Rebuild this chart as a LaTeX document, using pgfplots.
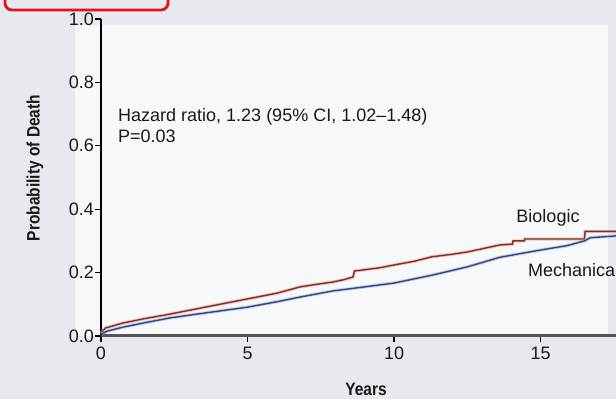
\documentclass[border=0pt]{standalone}
\usepackage{fontspec}
\setmainfont{Liberation Sans}
\newfontfamily\condfont[FakeStretch=0.86]{Liberation Sans}
\usepackage{pgfplots}
\pgfplotsset{compat=1.18}

\definecolor{bgc}{RGB}{230,233,237}
\definecolor{panelc}{RGB}{247,248,250}
\definecolor{boxred}{RGB}{232,16,26}
\definecolor{axgray}{RGB}{85,85,85}
\definecolor{txtc}{RGB}{25,25,25}
\definecolor{bioCore}{RGB}{130,48,38}
\definecolor{bioHalo}{RGB}{236,160,150}
\definecolor{mechCore}{RGB}{52,72,125}
\definecolor{mechHalo}{RGB}{160,180,225}

\newcommand{\txt}{\fontsize{18}{21}\selectfont}

\begin{document}
\begin{tikzpicture}
\useasboundingbox (0pt,0pt) rectangle (616pt,399pt);
\fill[bgc] (0pt,0pt) rectangle (616pt,399pt);
\fill[panelc] (75pt,63pt) rectangle (608pt,374pt);
\draw[boxred, line width=2.8pt, rounded corners=7pt] (5pt,389pt) rectangle (168pt,412pt);

\begin{axis}[
  at={(101pt,63pt)}, anchor=south west,
  scale only axis, width=515.7pt, height=317pt,
  xmin=0, xmax=17.6, ymin=0, ymax=1,
  axis x line*=bottom, axis y line*=left,
  x axis line style={line width=3pt, color=axgray},
  y axis line style={line width=1.4pt, black},
  xtick={0,5,10,15}, ytick={0,0.2,0.4,0.6,0.8,1.0},
  tick align=outside, major tick length=6pt,
  tick style={black, line width=1.2pt},
  /pgf/number format/assume math mode=true,
  yticklabel style={font=\txt, text=txtc, inner sep=1pt, /pgf/number format/fixed,
    /pgf/number format/fixed zerofill, /pgf/number format/precision=1},
  xticklabel style={font=\txt, text=txtc, inner sep=1pt, yshift=-4pt},
  clip=false,
]
% Biologic valve
\addplot[bioHalo, line width=3.2pt, opacity=0.6] coordinates {
(0,0.010) (0.15,0.025) (0.75,0.041) (1.5,0.055) (2.35,0.069) (3.5,0.090)
(4.5,0.108) (5,0.117) (6,0.135) (6.8,0.155) (7.5,0.165) (7.9,0.170)
(8.3,0.178) (8.6,0.186) (8.65,0.205) (9.5,0.215) (10,0.224) (10.7,0.236)
(11.3,0.250) (12,0.258) (12.5,0.265) (13,0.275) (13.6,0.287) (14.05,0.290)
(14.06,0.300) (14.45,0.300) (14.46,0.306) (16.5,0.306) (16.52,0.330) (17.6,0.330)};
\addplot[bioCore, line width=1.4pt] coordinates {
(0,0.010) (0.15,0.025) (0.75,0.041) (1.5,0.055) (2.35,0.069) (3.5,0.090)
(4.5,0.108) (5,0.117) (6,0.135) (6.8,0.155) (7.5,0.165) (7.9,0.170)
(8.3,0.178) (8.6,0.186) (8.65,0.205) (9.5,0.215) (10,0.224) (10.7,0.236)
(11.3,0.250) (12,0.258) (12.5,0.265) (13,0.275) (13.6,0.287) (14.05,0.290)
(14.06,0.300) (14.45,0.300) (14.46,0.306) (16.5,0.306) (16.52,0.330) (17.6,0.330)};
% Mechanical valve
\addplot[mechHalo, line width=3.2pt, opacity=0.6] coordinates {
(0,0.005) (0.2,0.015) (0.75,0.028) (1.5,0.042) (2.35,0.057) (3.5,0.072)
(5,0.091) (6,0.108) (6.8,0.123) (7.9,0.142) (9,0.155) (10,0.167)
(11.3,0.192) (12.5,0.218) (13.6,0.248) (14.8,0.268) (15.9,0.285)
(16.5,0.300) (16.7,0.310) (17.6,0.316)};
\addplot[mechCore, line width=1.4pt] coordinates {
(0,0.005) (0.2,0.015) (0.75,0.028) (1.5,0.042) (2.35,0.057) (3.5,0.072)
(5,0.091) (6,0.108) (6.8,0.123) (7.9,0.142) (9,0.155) (10,0.167)
(11.3,0.192) (12.5,0.218) (13.6,0.248) (14.8,0.268) (15.9,0.285)
(16.5,0.300) (16.7,0.310) (17.6,0.316)};
\end{axis}

\node[font=\txt, text=txtc, anchor=base west, inner sep=0pt] at (118pt,277.5pt) {Hazard ratio, 1.23 (95\% CI, 1.02--1.48)};
\node[font=\txt, text=txtc, anchor=base west, inner sep=0pt] at (118pt,256.5pt) {P=0.03};
\node[font=\txt, text=txtc, inner sep=0pt] at (548pt,181pt) {Biologic};
\node[font=\txt, text=txtc, anchor=west, inner sep=0pt] at (528pt,129pt) {Mechanical};
\node[font=\condfont\fontsize{18}{20}\selectfont\bfseries, text=txtc, rotate=90, inner sep=0pt] at (35pt,231pt) {Probability of Death};
\node[font=\condfont\fontsize{18}{20}\selectfont\bfseries, text=txtc, inner sep=0pt] at (366pt,10pt) {Years};
\end{tikzpicture}
\end{document}
